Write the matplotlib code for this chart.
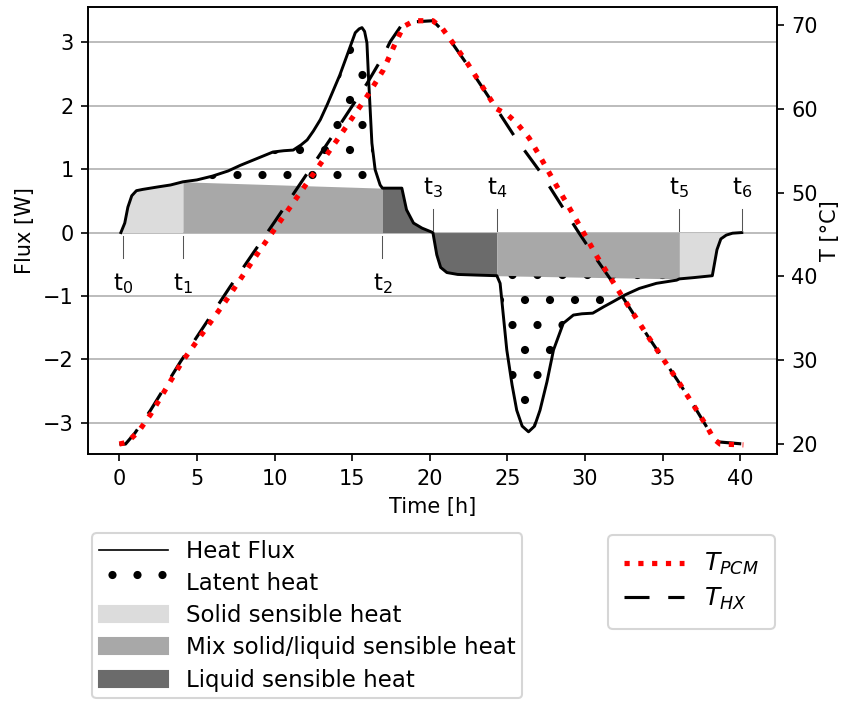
import numpy as np
import matplotlib.pyplot as plt
from matplotlib.lines import Line2D
from matplotlib.patches import Patch, Rectangle
from matplotlib.legend_handler import HandlerPatch

plt.rcParams['hatch.linewidth'] = 1.5

# heat flux through the PCM (W) over one charge / discharge cycle
flux_time = [0.10, 0.35, 0.55, 0.80, 1.10, 1.50, 2.50, 3.30, 4.10, 5.00, 6.00, 7.00,
             7.80, 8.80, 9.90, 10.60, 11.20, 11.70, 12.10, 12.50, 12.95, 13.40, 13.80,
             14.20, 14.65, 15.20, 15.45, 15.63, 15.80, 15.95, 16.05, 16.27, 16.48, 16.80,
             16.95, 17.15, 18.20, 18.50, 18.95, 19.50, 20.20,
             20.45, 20.70, 21.10, 21.80, 23.00, 24.32, 24.53, 24.96, 25.30, 25.60, 25.95,
             26.36, 26.75, 27.10, 27.55, 27.97, 28.60, 29.25, 29.80, 30.50, 31.20, 31.80,
             32.60, 33.50, 34.60, 35.90, 36.08, 37.00, 38.20, 38.50, 38.75, 39.10, 39.50, 40.10]
flux = [0.00, 0.15, 0.40, 0.58, 0.66, 0.68, 0.72, 0.75, 0.80, 0.83, 0.89, 0.97,
        1.06, 1.16, 1.27, 1.29, 1.30, 1.38, 1.46, 1.60, 1.78, 2.02, 2.25,
        2.48, 2.78, 3.15, 3.21, 3.23, 3.17, 2.99, 2.46, 1.41, 0.99, 0.75,
        0.70, 0.70, 0.70, 0.36, 0.15, 0.07, 0.00,
        -0.35, -0.55, -0.63, -0.66, -0.67, -0.68, -0.80, -1.85, -2.40, -2.80, -3.05,
        -3.14, -3.05, -2.80, -2.35, -1.85, -1.43, -1.30, -1.28, -1.27, -1.17, -1.09,
        -0.98, -0.88, -0.80, -0.75, -0.73, -0.71, -0.68, -0.27, -0.10, -0.04, -0.01, 0.00]

# PCM temperature (°C)
pcm_time = [0.00, 0.50, 1.24, 2.00, 4.04, 6.83, 9.08, 12.00, 14.00, 16.00, 17.00, 17.80,
            18.30, 19.00, 20.20, 20.80, 21.75, 22.40, 24.30, 25.00, 25.60, 26.40, 27.10,
            28.20, 29.70, 30.76, 32.26, 34.00, 36.10, 37.00, 37.85, 38.30, 38.70, 40.20]
t_pcm = [20.0, 20.2, 21.5, 23.5, 29.8, 37.0, 43.2, 50.9, 56.2, 61.6, 64.6, 67.9,
         69.8, 70.5, 70.5, 69.6, 67.2, 65.5, 60.0, 59.3, 58.3, 56.5, 54.3,
         50.7, 45.9, 42.4, 38.0, 33.0, 27.2, 24.6, 22.1, 20.6, 20.0, 19.9]

# heat exchanger temperature (°C)
hx_time = [0.00, 0.40, 1.00, 2.00, 3.93, 7.15, 10.00, 12.00, 14.00, 15.95, 17.00, 17.45,
           18.30, 20.20, 21.00, 22.40, 24.30, 25.60, 27.10, 29.50, 30.50, 32.26, 34.00,
           36.10, 37.00, 37.85, 38.30, 40.20]
t_hx = [20.0, 20.0, 21.3, 24.0, 29.8, 38.8, 46.5, 52.0, 57.5, 63.0, 66.3, 68.0,
        70.3, 70.5, 69.0, 65.3, 60.0, 56.3, 52.5, 45.5, 42.7, 38.0, 33.0,
        27.2, 24.6, 22.0, 20.3, 20.0]

# phase boundaries t0..t6 (h)
t_marks = [0.24, 4.10, 16.95, 20.20, 24.32, 36.08, 40.10]
t_labels = ['t$_0$', 't$_1$', 't$_2$', 't$_3$', 't$_4$', 't$_5$', 't$_6$']

c_solid = '#dcdcdc'
c_mix = '#a8a8a8'
c_liquid = '#6b6b6b'

x = np.array(flux_time)
q = np.array(flux)


def band(a, b):
    # straight line joining the flux values at a and b
    m = (x >= a) & (x <= b)
    qa, qb = np.interp([a, b], x, q)
    return m, qa + (qb - qa) * (x - a) / (b - a)


def tall_box(legend, orig_handle, xdescent, ydescent, width, height, fontsize):
    # taller invisible box so a full row of hatch dots shows in the legend
    return Rectangle((-xdescent, -ydescent - 0.25 * height), width, 1.5 * height)


fig = plt.figure(figsize=(844 / 150, 702 / 150), dpi=150)
ax = fig.add_axes([0.1046, 0.3528, 0.8157, 0.6377])

t0, t1, t2, t3, t4, t5, t6 = t_marks

# charging
ax.fill_between(x, 0, q, where=(x >= t0) & (x <= t1), color=c_solid, lw=0, interpolate=True)
m, top = band(t1, t2)
ax.fill_between(x, 0, top, where=m, color=c_mix, lw=0)
ax.fill_between(x, top, q, where=m & (q > top), facecolor='none', edgecolor='k',
                hatch='.', lw=0, interpolate=True)
ax.fill_between(x, 0, q, where=(x >= t2) & (x <= t3), color=c_liquid, lw=0)

# discharging
ax.fill_between(x, 0, q, where=(x >= t3) & (x <= t4), color=c_liquid, lw=0)
m, bot = band(t4, t5)
ax.fill_between(x, 0, bot, where=m, color=c_mix, lw=0)
ax.fill_between(x, bot, q, where=m & (q < bot), facecolor='none', edgecolor='k',
                hatch='.', lw=0, interpolate=True)
ax.fill_between(x, 0, q, where=(x >= t5) & (x <= t6), color=c_solid, lw=0)

ax.plot(x, q, color='k', lw=1.4)

for i, (t, lab) in enumerate(zip(t_marks, t_labels)):
    if i < 3:
        ax.plot([t, t], [-0.05, -0.4], color='#555555', lw=0.5)
        ax.text(t, -0.8, lab, ha='center', va='center', fontsize=11)
    else:
        ax.plot([t, t], [0.02, 0.37], color='#555555', lw=0.5)
        ax.text(t, 0.71, lab, ha='center', va='center', fontsize=11)

ax.set_xlim(-2.0, 42.35)
ax.set_ylim(-3.495, 3.56)
ax.set_yticks([-3, -2, -1, 0, 1, 2, 3])
ax.set_xticks([0, 5, 10, 15, 20, 25, 30, 35, 40])
ax.grid(axis='y', color='#b0b0b0', lw=0.8)
ax.set_axisbelow(True)
ax.set_xlabel('Time [h]')
ax.set_ylabel('Flux [W]')

ax2 = ax.twinx()
l_hx, = ax2.plot(hx_time, t_hx, color='k', lw=1.5, ls=(0, (8, 6)), label='$T_{HX}$')
l_pcm, = ax2.plot(pcm_time, t_pcm, color='red', lw=2.5, ls=':', label='$T_{PCM}$')
ax2.set_ylim(18.77, 72.18)
ax2.set_yticks([20, 30, 40, 50, 60, 70])
ax2.set_ylabel('T [°C]', labelpad=1)

latent = Patch(facecolor='none', edgecolor='k', hatch='.', lw=0)
handles = [Line2D([], [], color='k', lw=0.8), latent,
           Patch(color=c_solid), Patch(color=c_mix), Patch(color=c_liquid)]
labels = ['Heat Flux', 'Latent heat', 'Solid sensible heat',
          'Mix solid/liquid sensible heat', 'Liquid sensible heat']
fig.legend(handles, labels, loc='upper left', bbox_to_anchor=(92 / 844, 1 - 533 / 702),
           borderaxespad=0, fontsize=11, handlelength=3.0, labelspacing=0.4,
           borderpad=0.3, handler_map={latent: HandlerPatch(patch_func=tall_box)})
fig.legend([l_pcm, l_hx], ['$T_{PCM}$', '$T_{HX}$'], loc='upper right',
           bbox_to_anchor=(775 / 844, 1 - 535 / 702), borderaxespad=0,
           fontsize=12, handlelength=2.4, labelspacing=0.35, borderpad=0.65)

fig.savefig('out.png', dpi=150)
